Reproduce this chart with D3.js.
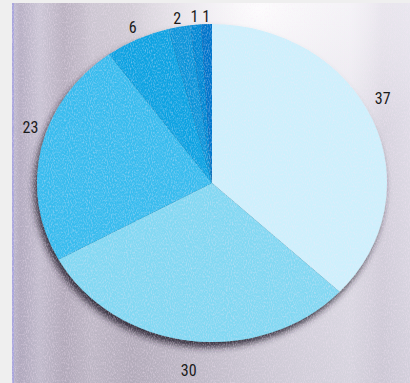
<!DOCTYPE html>
<html>
<head>
<meta charset="utf-8">
<script src="https://cdn.jsdelivr.net/npm/d3@7/dist/d3.min.js"></script>
<style>
  html, body { margin: 0; padding: 0; background: #efefef; }
  svg { display: block; }
</style>
</head>
<body>
<svg id="chart" width="410" height="383"></svg>
<script>
// Slice values, clockwise from twelve o'clock
const sliceLabels = ["37", "30", "23", "6", "2", "1", "1"];
const sliceValues = [37, 30, 23, 6, 2, 1, 1];
const sliceColors = ["#cdf0fc", "#82d8f2", "#38bcee", "#0ea3e2", "#0896da", "#0589d4", "#0276cb"];

const W = 410, H = 383;
const cx = 212, cy = 183;      // pie centre
const rx = 175, ry = 159;      // elliptical pie radii

const svg = d3.select("#chart");
const defs = svg.append("defs");

// Silver backdrop: vertical streaks plus a bright patch behind the top of the pie
const bg = defs.append("linearGradient").attr("id", "bgStreaks")
  .attr("x1", 0).attr("y1", 0).attr("x2", 1).attr("y2", 0);
[[0, "#c6c2d6"], [0.02, "#b7b0c4"], [0.07, "#ccc7d6"], [0.13, "#bab2c1"],
 [0.2, "#c9c3cf"], [0.3, "#bcb5c2"], [0.45, "#cbc6d1"], [0.6, "#dad7e0"],
 [0.72, "#e2e0e8"], [0.85, "#e8e7ee"], [0.93, "#dcd9e3"], [1, "#e4e2eb"]]
  .forEach(([o, c]) => bg.append("stop").attr("offset", o).attr("stop-color", c));

const glow = defs.append("radialGradient").attr("id", "bgGlow")
  .attr("cx", 0.62).attr("cy", 0.02).attr("r", 0.45);
glow.append("stop").attr("offset", 0).attr("stop-color", "#ffffff").attr("stop-opacity", 0.95);
glow.append("stop").attr("offset", 0.6).attr("stop-color", "#ffffff").attr("stop-opacity", 0.45);
glow.append("stop").attr("offset", 1).attr("stop-color", "#ffffff").attr("stop-opacity", 0);

const dim = defs.append("linearGradient").attr("id", "bgDim")
  .attr("x1", 0).attr("y1", 0).attr("x2", 0).attr("y2", 1);
dim.append("stop").attr("offset", 0).attr("stop-color", "#8a8298").attr("stop-opacity", 0);
dim.append("stop").attr("offset", 1).attr("stop-color", "#8a8298").attr("stop-opacity", 0.2);

// Fine speckle for the dithered look (alpha follows the noise, so it stays light)
const grain = defs.append("filter").attr("id", "grain")
  .attr("x", 0).attr("y", 0).attr("width", 1).attr("height", 1);
grain.append("feTurbulence").attr("type", "fractalNoise")
  .attr("baseFrequency", "0.95 0.5").attr("numOctaves", 2).attr("seed", 7).attr("result", "n");
grain.append("feColorMatrix").attr("in", "n").attr("type", "matrix")
  .attr("values", "0 0 0 0 0.95  0 0 0 0 0.8  0 0 0 0 0.95  0.9 0 0 0 -0.38");

// Soft shadow cast down and to the left of the pie
const shadow = defs.append("filter").attr("id", "pieShadow")
  .attr("x", "-20%").attr("y", "-20%").attr("width", "140%").attr("height", "140%");
shadow.append("feDropShadow").attr("dx", -3).attr("dy", 6).attr("stdDeviation", 3.5)
  .attr("flood-color", "#241c2e").attr("flood-opacity", 0.9);

const panel = { x: 12, y: 3, w: W - 12, h: H - 3 };
svg.append("rect").attr("x", panel.x).attr("y", panel.y).attr("width", panel.w).attr("height", panel.h)
  .attr("fill", "url(#bgStreaks)");
svg.append("rect").attr("x", panel.x).attr("y", panel.y).attr("width", panel.w).attr("height", panel.h)
  .attr("fill", "url(#bgGlow)");
svg.append("rect").attr("x", panel.x).attr("y", panel.y).attr("width", panel.w).attr("height", panel.h)
  .attr("fill", "url(#bgDim)");
svg.append("rect").attr("x", panel.x).attr("y", panel.y).attr("width", 2).attr("height", panel.h)
  .attr("fill", "#a9a6dc");

// Pie layout
const pie = d3.pie().value(d => d).sort(null);
const arcs = pie(sliceValues);
const arc = d3.arc().innerRadius(0).outerRadius(rx);

const pieG = svg.append("g")
  .attr("transform", `translate(${cx},${cy}) scale(1,${ry / rx})`)
  .attr("filter", "url(#pieShadow)");
pieG.selectAll("path.slice")
  .data(arcs)
  .join("path")
  .attr("class", "slice")
  .attr("d", arc)
  .attr("fill", (d, i) => sliceColors[i]);

// Speckle over the whole panel
svg.append("rect").attr("x", panel.x).attr("y", panel.y).attr("width", panel.w).attr("height", panel.h)
  .attr("filter", "url(#grain)").attr("fill", "#fff");

// Value labels around the rim; side labels ride a little higher, as on a tilted disc
const labelRx = 186, labelRy = 178, labelDy = 11, labelLift = 29;
const mid = d => (d.startAngle + d.endAngle) / 2;
svg.append("g").selectAll("text")
  .data(arcs)
  .join("text")
  .attr("x", d => cx + labelRx * Math.sin(mid(d)))
  .attr("y", d => cy - labelRy * Math.cos(mid(d)) + labelDy - labelLift * Math.sin(mid(d)) ** 2)
  .attr("text-anchor", "middle")
  .attr("dominant-baseline", "central")
  .attr("font-family", "'Liberation Sans Narrow', 'Arial Narrow', 'Roboto Condensed', 'DejaVu Sans Condensed', sans-serif")
  .attr("font-size", 16)
  .attr("fill", "#1a1a1a")
  .text((d, i) => sliceLabels[i]);
</script>
</body>
</html>
